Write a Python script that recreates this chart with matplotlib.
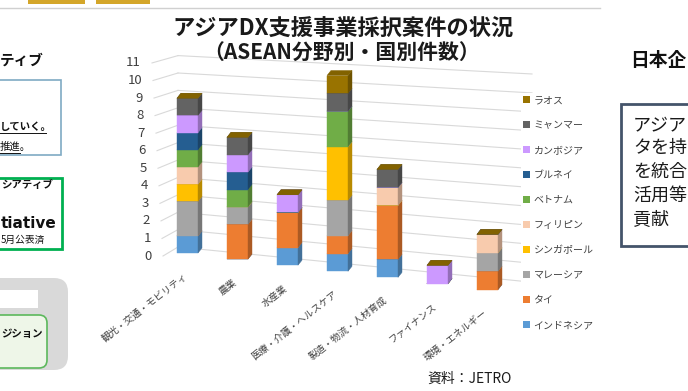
import matplotlib
matplotlib.use("Agg")
import matplotlib.pyplot as plt
from matplotlib.patches import Polygon, Rectangle, FancyBboxPatch, Patch
import numpy as np

plt.rcParams['font.family'] = ['Noto Sans CJK JP', 'DejaVu Sans']

# ---------------- data ----------------
categories = ['観光・交通・モビリティ', '農業', '水産業', '医療・介護・ヘルスケア',
              '製造・物流・人材育成', 'ファイナンス', '環境・エネルギー']
countries = ['インドネシア', 'タイ', 'マレーシア', 'シンガポール', 'フィリピン',
             'ベトナム', 'ブルネイ', 'カンボジア', 'ミャンマー', 'ラオス']
indonesia = [1, 0, 1, 1, 1, 0, 0]
thailand = [0, 2, 2, 1, 3, 0, 1]
malaysia = [2, 1, 0, 2, 0, 0, 1]
singapore = [1, 0, 0, 3, 0, 0, 0]
philippines = [1, 0, 0, 0, 1, 0, 1]
vietnam = [1, 1, 0, 2, 0, 0, 0]
brunei = [1, 1, 0, 0, 0, 0, 0]
cambodia = [1, 1, 1, 0, 0, 1, 0]
myanmar = [1, 1, 0, 1, 1, 0, 0]
laos = [0, 0, 0, 1, 0, 0, 0]
series = [indonesia, thailand, malaysia, singapore, philippines,
          vietnam, brunei, cambodia, myanmar, laos]
y_ticks = list(range(0, 12))

title = 'アジアDX支援事業採択案件の状況'
subtitle = '（ASEAN分野別・国別件数）'
source = '資料：JETRO'

colors = ['#5B9BD5', '#ED7D31', '#A5A5A5', '#FFC000', '#F8CBAD',
          '#70AD47', '#255E91', '#CC99FF', '#636363', '#997300']

# ---------------- figure ----------------
fig = plt.figure(figsize=(6.88, 3.91), dpi=100)
ax = fig.add_axes([0, 0, 1, 1])
ax.set_xlim(0, 688)
ax.set_ylim(391, 0)
ax.axis('off')

# projection of the 3D chart (screen pixels)
X0, DXC, W = 177.0, 50.0, 21.0     # front-left of first bar, category step, front width
B0, DB = 253.0, 6.1                # floor (front) y, per-category drop
U0, DU = 17.2, 0.2                 # pixels per unit, growth per category
DX, DY = 4.0, 5.0                  # bar depth offset


def front(c, v):
    return X0 + DXC * c, B0 + DB * c - v * (U0 + DU * c)


def shade(col, f):
    r, g, b = matplotlib.colors.to_rgb(col)
    return (r * f, g * f, b * f)


# walls: left wall + back wall gridlines
grid_col = '#D9D9D9'
XC, XR = 178.0, 532.0
for v in y_ticks:
    y_lab = 256 - 17.55 * v
    x_lab = 152 - v
    y_bl = 247 - 17.4 * v
    y_br = 282.2 - 18.93 * v
    ax.plot([x_lab + 11, XC], [y_lab, y_bl], color=grid_col, lw=0.8, zorder=1)
    ax.plot([XC, XR], [y_bl, y_br], color=grid_col, lw=0.8, zorder=1)
    ax.text(x_lab, y_lab, str(v), ha='right', va='center', fontsize=9.5,
            color='#404040', zorder=3)

# bars
for c in range(len(categories)):
    base = 0
    for s, vals in enumerate(series):
        v = vals[c]
        xl, yb = front(c, base)
        _, yt = front(c, base + v)
        xr = xl + W
        col = colors[s]
        kw = dict(zorder=5, lw=0.3)
        if v > 0:
            ax.add_patch(Polygon([(xl, yb), (xr, yb), (xr, yt), (xl, yt)],
                                 closed=True, fc=col, ec=col, **kw))
            sc = shade(col, 0.72)
            ax.add_patch(Polygon([(xr, yb), (xr + DX, yb - DY), (xr + DX, yt - DY), (xr, yt)],
                                 closed=True, fc=sc, ec=sc, **kw))
        tc = shade(col, 0.85)
        ax.add_patch(Polygon([(xl, yt), (xr, yt), (xr + DX, yt - DY), (xl + DX, yt - DY)],
                             closed=True, fc=tc, ec=tc, **kw))
        base += v
    # category label
    xl, yb = front(c, 0)
    ax.text(xl + 9, yb + 22, categories[c], rotation=38, rotation_mode='anchor',
            ha='right', va='center', fontsize=6.9, color='#404040', zorder=3)

# legend
handles = [Patch(fc=colors[i], ec='none') for i in range(len(countries))][::-1]
leg = ax.legend(handles, countries[::-1], loc='upper left',
                bbox_to_anchor=(516, 88), bbox_transform=ax.transData,
                fontsize=7.2, frameon=True, facecolor='white', edgecolor='none',
                framealpha=1, fancybox=False, borderpad=0.2,
                handlelength=0.7, handleheight=0.7, handletextpad=0.35,
                labelspacing=1.5)
for t in leg.get_texts():
    t.set_color('#404040')
leg.set_zorder(4)

# titles
ax.text(343, 29, title, ha='center', va='center', fontsize=16, fontweight='bold', color='#1a1a1a')
ax.text(342, 53, subtitle, ha='center', va='center', fontsize=15, fontweight='bold', color='#1a1a1a')
ax.text(470, 379, source, ha='center', va='center', fontsize=10, color='#1a1a1a')

# ---------------- surrounding slide fragments ----------------
ax.plot([0, 600], [8, 8], color='#D0D0D0', lw=1, zorder=1)
ax.add_patch(Rectangle((28, -2), 57, 6, fc='#D4A62A', ec='none'))
ax.add_patch(Rectangle((96, -2), 54, 6, fc='#D4A62A', ec='none'))

ax.text(0, 60, 'ティブ', ha='left', va='center', fontsize=10.5, fontweight='bold', color='#111111')
ax.add_patch(Rectangle((-5, 80), 66, 75, fc='white', ec='#7FAAC4', lw=1.2))
ax.text(0, 127, 'していく。', ha='left', va='center', fontsize=7.5, fontweight='bold', color='#111111')
ax.plot([0, 46], [133, 133], color='#111111', lw=0.7)
ax.text(0, 147, '推進。', ha='left', va='center', fontsize=7.5, color='#111111')
ax.plot([0, 20], [153, 153], color='#111111', lw=0.7)

ax.add_patch(Rectangle((-5, 178), 67, 71, fc='white', ec='#00B050', lw=2))
ax.text(1, 185, 'シアティブ', ha='left', va='center', fontsize=7.5, fontweight='bold', color='#111111')
ax.text(1, 223, 'tiative', ha='left', va='center', fontsize=11, fontweight='bold', color='#111111',
        family=['DejaVu Sans'])
ax.text(1, 240, '5月公表済', ha='left', va='center', fontsize=7, color='#111111')

ax.add_patch(FancyBboxPatch((-20, 278), 88, 92, boxstyle='round,pad=0,rounding_size=14',
                            fc='#D9D9D9', ec='none'))
ax.add_patch(Rectangle((-5, 290), 43, 18, fc='white', ec='none'))
ax.add_patch(FancyBboxPatch((-10, 315), 57, 53, boxstyle='round,pad=0,rounding_size=8',
                            fc='#EEF6E8', ec='#5CB85C', lw=1.2))
ax.text(1, 334, 'ジション', ha='left', va='center', fontsize=7.5, fontweight='bold', color='#111111')

ax.text(630, 60, '日本企', ha='left', va='center', fontsize=13.5, fontweight='bold', color='#111111')
ax.add_patch(Rectangle((621, 104), 80, 142, fc='white', ec='#44546A', lw=2))
for i, line in enumerate(['アジア', 'タを持', 'を統合', '活用等', '貢献']):
    ax.text(633, 125 + 23.5 * i, line, ha='left', va='center', fontsize=13, color='#1a1a1a')

fig.savefig('out.png', dpi=100, facecolor='white')
